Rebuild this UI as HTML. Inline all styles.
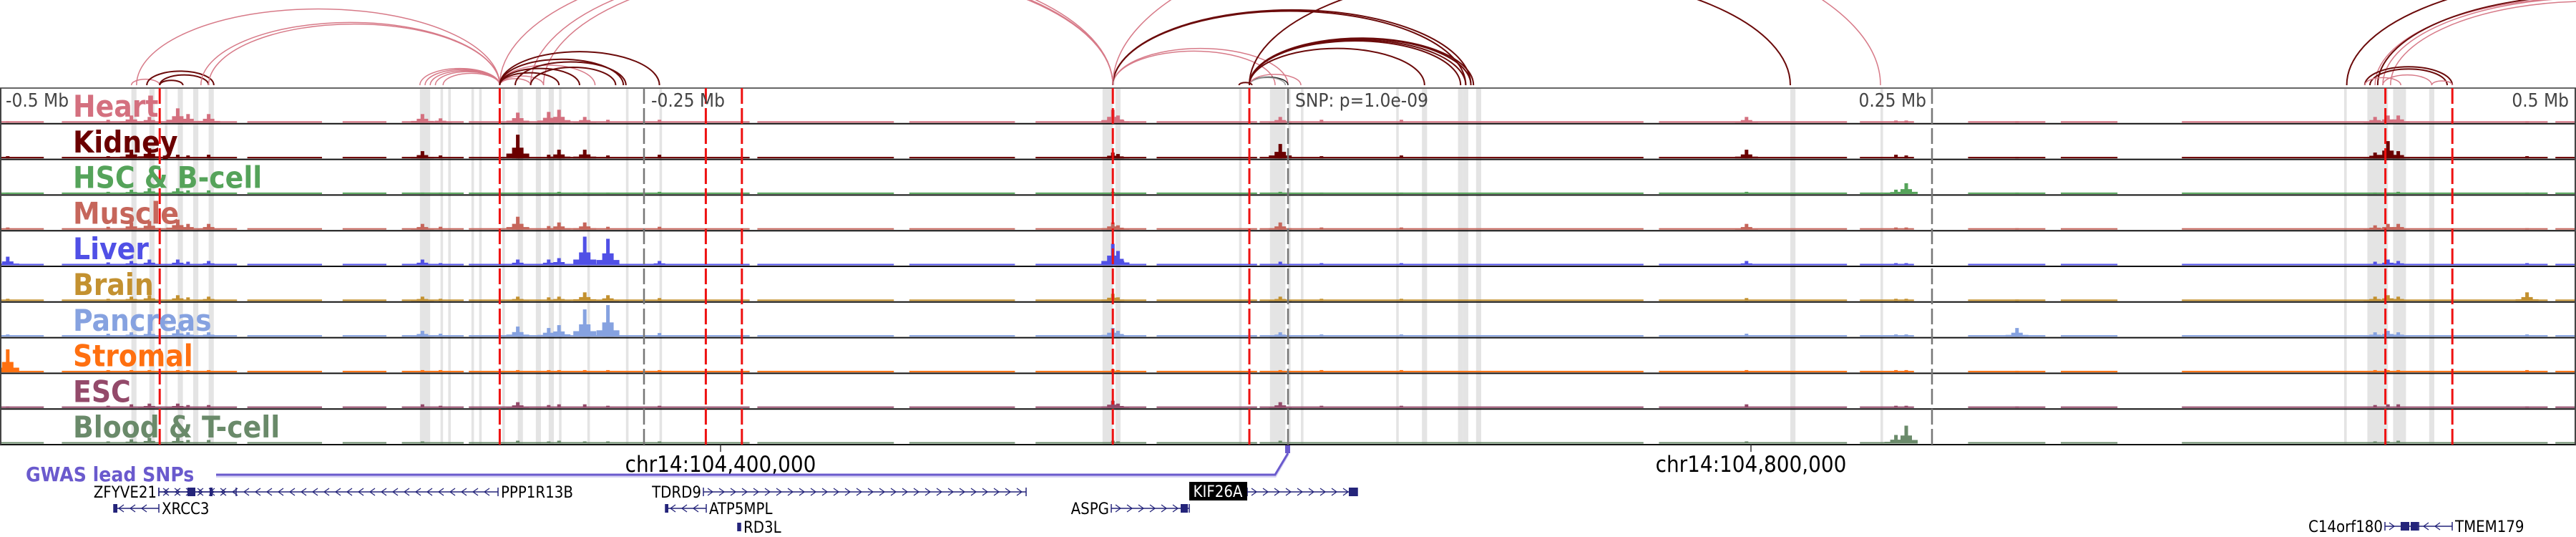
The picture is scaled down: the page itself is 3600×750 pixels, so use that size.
<!DOCTYPE html>
<html><head><meta charset="utf-8">
<style>
html,body{margin:0;padding:0;background:#fff;width:3600px;height:750px;overflow:hidden}
svg{display:block}
text{font-family:"DejaVu Sans Condensed","DejaVu Sans","Liberation Sans",sans-serif}
</style></head>
<body>
<svg id="fig" xmlns="http://www.w3.org/2000/svg" width="3600" height="750" viewBox="0 0 3600 750">
  <defs><clipPath id="arcclip"><rect x="0" y="0" width="3600" height="120"/></clipPath></defs>
  <g id="arcs" clip-path="url(#arcclip)"></g>
  <g id="bands"></g>
  <g id="tracks"></g>
  <g id="vlines"></g>
  <g id="labels"></g>
  <g id="axis"></g>
</svg>
<script>
// ---- data (positions in kb relative to lead SNP) ----
const trackNames = ["Heart","Kidney","HSC & B-cell","Muscle","Liver","Brain","Pancreas","Stromal","ESC","Blood & T-cell"];
const trackColors = ["#d4707f","#6b0000","#55a35a","#c6665b","#5050e6","#c39130","#86a2e0","#ff7010","#934a6a","#6a8a6a"];
const peakLoci = [-497,-458,-449,-442,-431,-427,-419,-336,-329,-299,-287,-283,-273,-264,-244,-68,-66,-3,13,44,178,236,240,283,422,427,431,481];
const heartH    = [2,4,10,8,20,12,12,12,6,14,15,18,8,4,4,18,10,8,4,4,8,3,3,2,8,10,10,2];
const kidneyH   = [3,3,12,14,5,4,5,10,4,33,5,12,12,4,5,8,6,20,3,4,12,5,4,2,8,24,10,3];
const hscH      = [2,3,6,8,8,5,5,2,2,2,2,3,2,2,3,3,2,3,2,2,3,6,15,2,2,2,3,2];
const muscleH   = [3,4,10,12,14,8,8,8,4,18,5,10,10,4,4,10,6,10,3,3,8,3,3,2,6,8,8,2];
const liverH    = [12,4,6,8,8,5,6,8,3,8,8,10,40,37,6,30,20,5,3,3,6,3,3,2,5,8,6,3];
const brainH    = [3,3,6,8,8,5,6,6,3,6,5,6,12,8,4,10,5,6,3,3,4,3,3,2,6,8,6,12];
const pancreasH = [3,4,6,8,10,6,6,8,4,14,12,16,38,44,5,12,8,6,3,3,4,3,3,12,6,8,6,3];
const stromalH  = [32,3,3,3,3,3,3,3,3,3,3,3,3,3,3,4,3,3,3,3,3,3,3,2,3,3,3,3];
const escH      = [2,3,5,6,6,4,4,5,3,8,4,5,5,3,3,10,6,8,3,3,5,3,3,2,4,5,5,2];
const bloodH    = [2,3,6,8,8,5,5,3,2,4,3,4,3,3,3,4,3,4,2,2,3,12,25,2,3,3,4,2];
const coverage = [[-500,-483],[-476,-408],[-404,-375],[-367,-350],[-344,-320],[-318,-209],[-206,-153],[-147,-106],[-98,-55],[-51,-12],[-11,138],[144,217],[222,243],[264,294],[300,322],[347,489],[492,500]];
const bandStarts = [-449,-442,-436,-431,-425,-419,-337,-329,-326,-317,-314,-305,-299,-292,-287,-283,-272,-257,-244,-72,-67,-19,-7,0,5,42,52,66,68,73,195,230,410,419,429,443];
const bandEnds   = [-447,-440,-435,-429,-423,-417,-333,-328,-325,-316,-313,-304,-297,-290,-285,-282,-271,-256,-243,-68,-65,-18,-1,1,6,43,54,68,70,75,197,231,411,427,434,445];
const redLines = [-438,-306,-226,-212,-68,-15,426,452];
const axisLines = [-250,0,250];
const arcStart = [-449,-443,-438,-438,-447,-422,-419,-337,-335,-333,-331,-328,-306,-306,-306,-306,-294,-289,-306,-306,-306,-306,-300,-294,-68,-68,-68,-68,-15,-15,-15,-15,-15,-15,-15,-15,-19,-68,-15,411,422,425,423,428,418,420,425,444,418];
const arcEnd   = [-438,-417,-429,-419,-306,-306,-306,-306,-306,-306,-306,-306,-294,-289,-269,-68,-68,-68,-258,-244,-283,-275,-257,-261,-5,0,69,71,53,67,69,71,72,0,-1,5,-14,230,195,611,583,586,589,583,452,450,444,452,432];
const arcColor = [0,1,1,1,0,0,0,0,0,0,0,0,0,0,0,0,0,0,1,1,1,1,1,1,0,0,1,1,1,1,1,1,1,2,3,0,1,0,1,1,0,0,1,0,1,1,0,0,0];
const axisTicks = ["-0.5 Mb","-0.25 Mb","SNP: p=1.0e-09","0.25 Mb","0.5 Mb"];

// ---- scales ----
const X = kb => (kb + 500) * 3.6;
const TRACK_TOP = 123, TRACK_H = 49.8;
const trackY = i => TRACK_TOP + i * TRACK_H;
const heightsByTrack = [heartH,kidneyH,hscH,muscleH,liverH,brainH,pancreasH,stromalH,escH,bloodH];
const NS = "http://www.w3.org/2000/svg";
function mk(tag, attrs, parent){const e=document.createElementNS(NS,tag);for(const k in attrs)e.setAttribute(k,attrs[k]);parent.appendChild(e);return e;}

// arcs
const arcG = document.getElementById('arcs');
const arcCols = ["#d77a88","#6b0a0a","#222","#999"];
arcStart.forEach((s,i)=>{
  const x1=X(s), x2=X(arcEnd[i]); const rx=(x2-x1)/2; const ry=0.21*(x2-x1); const base=119;
  const p=mk('path',{d:`M${x1},${base} A${rx},${ry} 0 0 1 ${x2},${base}`,fill:'none',stroke:arcCols[arcColor[i]],'stroke-width':arcColor[i]===1?2:1.5},arcG);
  
  
});

// bands
const bandG=document.getElementById('bands');
bandStarts.forEach((s,i)=>{
  const r=mk('rect',{x:X(s),y:TRACK_TOP,width:Math.max(3,X(bandEnds[i])-X(s)),height:TRACK_H*10,fill:'#e4e4e4'},bandG);
  
  
});

// tracks
const trG=document.getElementById('tracks');
trackNames.forEach((n,ti)=>{
  const top=trackY(ti), base=top+TRACK_H-1.5;
  const g=mk('g',{},trG);
  
  
  coverage.forEach(c=>{ mk('rect',{x:X(c[0]),y:base-2,width:X(c[1])-X(c[0]),height:2,fill:trackColors[ti]},g); });
  peakLoci.forEach((kb,pi)=>{
    const h=heightsByTrack[ti][pi];
    const b=mk('rect',{x:X(kb)-2.5,y:base-h,width:5,height:h,fill:trackColors[ti]},g);
    
    
    if(h>5){
      mk('rect',{x:X(kb)-8,y:base-h*0.45,width:16,height:h*0.45,fill:trackColors[ti]},g);
      mk('rect',{x:X(kb)-16,y:base-h*0.2,width:32,height:h*0.2,fill:trackColors[ti]},g);
    }
  });
  const ln=mk('line',{x1:0,x2:3600,y1:top+TRACK_H,y2:top+TRACK_H,stroke:'#111','stroke-width':2},trG);
  
  
});
mk('line',{x1:0,x2:3600,y1:TRACK_TOP,y2:TRACK_TOP,stroke:'#666','stroke-width':2},trG);
mk('line',{x1:1,x2:1,y1:TRACK_TOP,y2:TRACK_TOP+TRACK_H*10,stroke:'#444','stroke-width':2},trG);
mk('line',{x1:3599,x2:3599,y1:TRACK_TOP,y2:TRACK_TOP+TRACK_H*10,stroke:'#444','stroke-width':2},trG);

// vertical marker lines
const vG=document.getElementById('vlines');
redLines.forEach(kb=>{
  const l=mk('line',{x1:X(kb),x2:X(kb),y1:TRACK_TOP,y2:TRACK_TOP+TRACK_H*10,stroke:'#ee1111','stroke-width':3,'stroke-dasharray':'22 6'},vG);
  
  
});
axisLines.forEach(kb=>{
  const l=mk('line',{x1:X(kb),x2:X(kb),y1:TRACK_TOP,y2:TRACK_TOP+TRACK_H*10,stroke:'#777','stroke-width':2.5,'stroke-dasharray':'22 6'},vG);
  
  
});

// labels
const lG=document.getElementById('labels');
trackNames.forEach((n,ti)=>{
  const t=mk('text',{x:102,y:trackY(ti)+40,'font-size':42,'font-weight':'bold',fill:trackColors[ti]},lG);
  t.textContent=n;
  
  
});

// axis tick labels
const aG=document.getElementById('axis');
const tickPos=[[8,'start'],[910,'start'],[1810,'start'],[2692,'end'],[3590,'end']];
axisTicks.forEach((s,i)=>{
  const t=mk('text',{x:tickPos[i][0],y:149,'font-size':26,fill:'#444','text-anchor':tickPos[i][1]},aG);
  t.textContent=s;
  
  
});
</script>
<svg style="position:absolute;left:0;top:0" width="3600" height="750" xmlns="http://www.w3.org/2000/svg">
  <line x1="1007" y1="621" x2="1007" y2="631" stroke="#333" stroke-width="1.5"/>
  <line x1="2447" y1="621" x2="2447" y2="631" stroke="#333" stroke-width="1.5"/>
  <text x="1007" y="659" font-size="31" text-anchor="middle" fill="#000">chr14:104,400,000</text>
  <text x="2447" y="659" font-size="31" text-anchor="middle" fill="#000">chr14:104,800,000</text>
  <text x="36" y="672" font-size="28" font-weight="bold" fill="#6a5acd">GWAS lead SNPs</text>
  <path d="M302,665 L1782,665 L1800,634" fill="none" stroke="#d8d4f4" stroke-width="4"/>
  <path d="M302,663 L1782,663 L1800,633" fill="none" stroke="#6a5acd" stroke-width="3"/>
  <rect x="1796" y="622" width="7" height="11" fill="#6a5acd"/>
  <g id="genes2" font-size="22" fill="#000"></g>
</svg>
<script>
const geneNames = ["ZFYVE21","PPP1R13B","XRCC3","TDRD9","ATP5MPL","RD3L","ASPG","KIF26A","C14orf180","TMEM179"];
const geneStart = [222,222,159,983,930,1031,1553,1743,3333,3380];
const geneEnd   = [330,696,222,1434,987,1035,1662,1897,3380,3427];
const geneDir   = [1,-1,-1,1,-1,0,1,1,1,-1];
const geneRow   = [687,687,710,687,710,736,710,687,735,735];
(function(){
  const NS2="http://www.w3.org/2000/svg";
  const g=document.getElementById('genes2');
  function m(tag,a){const e=document.createElementNS(NS2,tag);for(const k in a)e.setAttribute(k,a[k]);g.appendChild(e);return e;}
  const labelSide=["left","right","right","left","right","right","left","left","left","right"];
  geneNames.forEach((n,i)=>{
    const x1=geneStart[i],x2=geneEnd[i],y=geneRow[i],c="#24247a";
    const gl=m('line',{x1:x1,x2:x2,y1:y,y2:y,stroke:c,'stroke-width':1.5});
    
    
    m('line',{x1:x1,x2:x1,y1:y-6,y2:y+6,stroke:c,'stroke-width':1.5});
    m('line',{x1:x2,x2:x2,y1:y-6,y2:y+6,stroke:c,'stroke-width':1.5});
    if(geneDir[i]!==0){
      for(let x=x1+10;x<x2-5;x+=16){
        const d=geneDir[i];
        m('polyline',{points:`${x-4*d},${y-5} ${x+3*d},${y} ${x-4*d},${y+5}`,fill:'none',stroke:c,'stroke-width':1.3});
      }
    } else { m('rect',{x:x1,y:y-6,width:4,height:12,fill:c}); }
    const side=labelSide[i];
    if(n==="KIF26A"){
      m('rect',{x:1662,y:673,width:81,height:26,fill:'#000'});
      const t=m('text',{x:1702,y:694,'text-anchor':'middle',fill:'#fff'});t.textContent=n;
      
      
    } else {
      const t=m('text',side==="left"?{x:x1-3,y:y+8,'text-anchor':'end'}:{x:x2+4,y:y+8});
      t.textContent=n;
      
      
    }
  });
  [[262,687,6],[268,687,5],[293,687,4],[159,710,5],[1885,687,12],[1650,710,10],[930,710,4],[3355,735,12],[3369,735,10]].forEach(e=>{
    m('rect',{x:e[0],y:e[1]-6,width:e[2],height:12,fill:'#24247a'});
  });
})();
</script>
</body></html>
